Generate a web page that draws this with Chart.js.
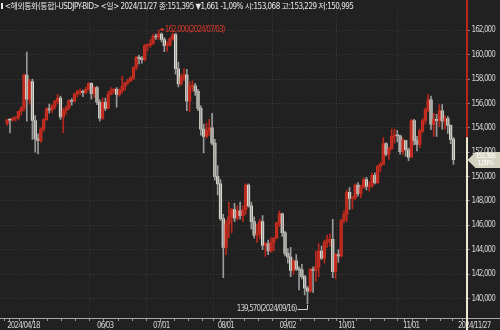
<!DOCTYPE html>
<html>
<head>
<meta charset="utf-8">
<script src="https://cdn.jsdelivr.net/npm/chart.js@4"></script>
<style>
  html, body { margin: 0; padding: 0; background: #212121; }
  canvas { display: block; }
</style>
</head>
<body>
<canvas id="fxChart" width="500" height="330"></canvas>
<script>
// USDJPY daily candles (BID), first and last trading day shown
const startDay = "2024-04-18";
const endDay = "2024-11-27";

const openPrices = [
  154.36,154.64,154.63,154.81,154.83,155.35,155.62,158.32,156.35,157.80,
  154.60,153.10,152.95,153.90,154.68,155.55,155.48,155.78,156.20,156.45,
  154.90,155.40,155.65,156.25,156.18,156.80,156.95,157.00,156.88,157.15,
  157.65,156.80,157.30,156.10,154.80,156.10,155.60,156.75,157.05,157.15,
  156.75,157.05,157.40,157.70,157.85,158.10,158.95,159.80,159.70,159.60,
  160.75,160.80,160.90,161.50,161.45,161.70,161.25,160.75,160.80,161.30,
  161.65,158.85,157.60,158.10,158.35,156.20,157.40,157.45,157.00,155.60,
  153.90,153.30,153.75,154.00,152.75,150.00,149.40,146.55,144.20,146.10,
  146.70,147.30,146.60,147.20,146.80,147.30,149.30,147.60,146.30,145.20,
  145.30,146.30,144.35,144.50,143.90,144.60,144.95,146.20,146.95,145.40,
  143.70,143.40,142.30,143.10,142.40,142.35,141.80,140.85,140.60,142.40,
  142.30,142.60,143.90,143.30,144.60,144.80,144.85,142.20,143.60,143.50,
  146.40,146.90,148.70,148.20,148.25,149.30,148.60,149.10,149.75,149.20,
  149.25,150.10,149.50,150.85,151.00,152.70,151.85,152.30,153.30,153.40,
  153.35,152.05,152.95,152.20,151.60,154.60,152.95,152.65,153.75,154.60,
  155.50,156.30,154.30,154.70,154.60,155.40,154.55,154.75,154.20,153.068
];
const highPrices = [
  154.72,154.66,154.86,154.89,155.37,155.74,158.44,160.21,157.98,158.00,
  155.00,153.50,154.00,154.75,155.65,155.95,155.90,156.25,156.75,156.60,
  155.60,155.80,156.30,156.40,156.85,157.10,157.20,157.10,157.35,157.70,
  157.70,157.40,157.40,156.30,156.45,156.45,157.00,157.30,157.25,157.30,
  157.20,158.25,157.75,158.00,158.20,159.00,159.85,159.95,159.85,160.85,
  160.90,161.25,161.70,161.70,162.00,161.80,161.40,161.10,161.40,161.80,
  161.75,159.40,158.40,158.85,158.80,157.80,157.85,157.65,157.15,155.80,
  154.30,154.40,154.70,155.20,153.05,150.90,149.75,146.90,146.40,147.90,
  147.40,147.80,147.60,147.90,147.60,149.40,149.40,147.90,146.70,146.10,
  146.50,146.80,144.60,144.80,145.00,145.00,146.25,147.20,147.00,145.50,
  144.10,144.20,143.20,143.60,142.60,142.80,141.90,141.00,142.50,142.60,
  143.90,144.50,144.30,144.80,145.20,145.30,146.50,143.70,144.00,146.50,
  147.20,148.90,149.10,148.40,149.40,149.50,149.30,149.90,149.95,149.60,
  150.30,150.30,150.95,151.20,153.20,152.80,152.40,153.90,153.90,153.80,
  153.40,153.15,153.00,152.35,154.70,154.70,153.30,153.90,154.75,155.65,
  156.75,156.60,155.20,155.10,155.90,155.90,155.00,154.95,154.25,153.229
];
const lowPrices = [
  154.20,153.59,154.55,154.56,154.66,155.05,155.38,154.54,155.95,153.05,
  152.00,151.86,152.80,153.70,154.60,155.20,155.25,155.55,156.00,154.70,
  153.60,155.10,155.50,155.85,156.10,156.55,156.70,156.55,156.80,157.10,
  156.35,156.50,155.90,154.55,154.70,155.40,155.55,156.70,156.85,155.70,
  156.60,156.85,157.10,157.55,157.80,157.95,158.75,159.25,159.30,159.50,
  160.30,160.60,160.85,161.25,161.25,161.05,160.25,160.30,160.70,161.20,
  158.40,157.35,157.50,157.90,155.40,155.35,157.00,156.65,155.40,153.40,
  151.95,153.15,153.35,152.60,149.70,148.50,146.40,141.70,143.60,145.00,
  145.40,146.30,146.40,146.50,146.30,146.90,147.50,145.70,144.95,144.60,
  144.90,144.00,143.45,143.60,143.80,143.90,144.90,145.90,145.10,143.50,
  142.90,141.80,142.00,142.30,140.70,141.60,140.30,139.57,140.50,140.50,
  141.40,141.80,143.20,142.90,144.20,144.30,141.70,141.65,142.95,143.40,
  146.20,146.30,147.30,147.35,148.10,148.40,148.25,149.05,148.90,148.80,
  149.10,149.40,149.40,150.40,150.95,151.70,151.40,152.20,152.75,152.85,
  151.85,151.80,151.65,151.30,151.60,152.60,152.10,152.40,153.60,154.30,
  155.30,153.85,153.30,153.30,154.10,153.90,153.90,153.55,152.70,150.995
];
const closePrices = [
  154.64,154.63,154.81,154.83,155.35,155.62,158.32,156.35,157.80,154.60,
  153.10,152.95,153.90,154.68,155.55,155.48,155.78,156.20,156.45,154.90,
  155.40,155.65,156.25,156.18,156.80,156.95,157.00,156.88,157.15,157.65,
  156.80,157.30,156.10,154.80,156.10,155.60,156.75,157.05,157.15,156.75,
  157.05,157.40,157.70,157.85,158.10,158.95,159.80,159.70,159.60,160.75,
  160.80,160.90,161.50,161.45,161.70,161.25,160.75,160.80,161.30,161.65,
  158.85,157.60,158.10,158.35,156.20,157.40,157.45,157.00,155.60,153.90,
  153.30,153.75,154.00,152.75,150.00,149.40,146.55,144.20,146.10,146.70,
  147.30,146.60,147.20,146.80,147.30,149.30,147.60,146.30,145.20,145.30,
  146.30,144.35,144.50,143.90,144.60,144.95,146.20,146.95,145.40,143.70,
  143.40,142.30,143.10,142.40,142.35,141.80,140.85,140.60,142.40,142.30,
  142.60,143.90,143.30,144.60,144.80,144.85,142.20,143.60,143.50,146.40,
  146.90,148.70,148.20,148.25,149.30,148.60,149.10,149.75,149.20,149.25,
  150.10,149.50,150.85,151.00,152.70,151.85,152.30,153.30,153.40,153.35,
  152.05,152.95,152.20,151.60,154.60,152.95,152.65,153.75,154.60,155.50,
  156.30,154.30,154.70,154.60,155.40,154.55,154.75,154.20,153.056,151.395
];

// dates that get a label (and a dotted vertical grid line)
const labelDays = ["2024/04/18", "2024/06/03", "2024/07/01", "2024/08/01", "2024/09/02", "2024/10/01", "2024/11/01", "2024/11/27"];

const FONT = '"DejaVu Sans Condensed", "Noto Sans CJK KR", sans-serif';
const UP = "#dc3326";
const UP_WICK = "#b8281d";
const DOWN = "#f7f4e4";
const DOWN_WICK = "#9a9a9a";
const GRID = "#3d3d3d";
const TEXT = "#cfcfcf";

//Builds the list of trading days (weekdays) and the weekly tick positions
const tradeDays = [];
const mondays = [];
for (let d = new Date(startDay + "T00:00:00Z"); d <= new Date(endDay + "T00:00:00Z"); d.setUTCDate(d.getUTCDate() + 1)) {
  const wd = d.getUTCDay();
  if (wd === 0 || wd === 6) continue;
  if (wd === 1) mondays.push(tradeDays.length);
  tradeDays.push(d.toISOString().slice(0, 10).replace(/-/g, "/"));
}
const last = tradeDays.length - 1;
const labelIdx = labelDays.map((d) => tradeDays.indexOf(d));
// the last date label sits against the right edge, a little past its candle
const tickIdx = Array.from(new Set(mondays.concat(labelIdx.slice(0, -1)))).sort((a, b) => a - b).concat([last + 1.6]);

const isUp = (i) => closePrices[i] >= openPrices[i];
const fmt = (v) => v.toFixed(3).replace(".", ",");

const wicks = tradeDays.map((d, i) => ({ x: i, y: [lowPrices[i], highPrices[i]] }));
const bodies = tradeDays.map((d, i) => ({ x: i, y: [openPrices[i], closePrices[i]] }));

//Tight letter spacing so the small labels look like the terminal font
const tightText = {
  id: "tightText",
  beforeDraw(chart) {
    chart.ctx.letterSpacing = "-0.9px";
  },
};

//Header, max / min notes, price gauge and last price tag
const overlay = {
  id: "overlay",
  afterDraw(chart) {
    const { ctx, chartArea: a, scales: { x, y } } = chart;
    ctx.save();

    // header line
    const chg = closePrices[last - 1] - closePrices[last];
    const pct = (chg / closePrices[last - 1] * 100).toFixed(2).replace(".", ",");
    const head = "<해외통화(통합)-USDJPY-BID> <일> " + tradeDays[last] +
      " 종:" + fmt(closePrices[last]) + " ▼" + fmt(chg) + " -" + pct + "%" +
      " 시:" + fmt(openPrices[last]) + " 고:" + fmt(highPrices[last]) + " 저:" + fmt(lowPrices[last]);
    ctx.fillStyle = "#e6e6e6";
    ctx.fillRect(1, 3, 2, 6);
    ctx.letterSpacing = "-0.5px";
    ctx.font = "8px " + FONT;
    ctx.textBaseline = "middle";
    ctx.textAlign = "left";
    ctx.fillText(head, 5, 6.5);

    // highest high
    let hi = 0, lo = 0;
    highPrices.forEach((v, i) => { if (v > highPrices[hi]) hi = i; });
    lowPrices.forEach((v, i) => { if (v < lowPrices[lo]) lo = i; });
    const hx = x.getPixelForValue(hi), hy = Math.round(y.getPixelForValue(highPrices[hi])) - 0.5;
    ctx.letterSpacing = "-0.9px";
    ctx.strokeStyle = "#d23a2c";
    ctx.fillStyle = "#d23a2c";
    ctx.lineWidth = 1;
    ctx.beginPath();
    ctx.moveTo(hx + 1, hy);
    ctx.lineTo(hx + 6, hy);
    ctx.stroke();
    ctx.beginPath();
    ctx.moveTo(hx + 1, hy);
    ctx.lineTo(hx + 4, hy - 2);
    ctx.lineTo(hx + 4, hy + 2);
    ctx.closePath();
    ctx.fill();
    ctx.fillText(fmt(highPrices[hi]) + "(" + tradeDays[hi] + ")", hx + 6, hy);

    // lowest low
    const lx = Math.round(x.getPixelForValue(lo)) + 0.5, ly = y.getPixelForValue(lowPrices[lo]);
    const by = Math.round(ly + 5) + 0.5;
    ctx.strokeStyle = "#d0d0d0";
    ctx.fillStyle = "#d0d0d0";
    ctx.beginPath();
    ctx.moveTo(lx, ly + 1);
    ctx.lineTo(lx, by);
    ctx.lineTo(lx - 10, by);
    ctx.stroke();
    ctx.textAlign = "right";
    ctx.fillText(fmt(lowPrices[lo]) + "(" + tradeDays[lo] + ")", lx - 11, by - 1);

    // axis line continues under the price scale
    ctx.strokeStyle = "#a8a8a8";
    ctx.beginPath();
    ctx.moveTo(a.right, a.bottom + 0.5);
    ctx.lineTo(chart.width, a.bottom + 0.5);
    ctx.stroke();

    // price gauge on the right edge
    const ex = a.right + 0.5;
    const gy = y.getPixelForValue(highPrices[last]);
    ctx.lineWidth = 2;
    ctx.strokeStyle = "#b8261c";
    ctx.beginPath();
    ctx.moveTo(ex, 0);
    ctx.lineTo(ex, gy);
    ctx.stroke();
    ctx.strokeStyle = "#ece8d4";
    ctx.beginPath();
    ctx.moveTo(ex, gy);
    ctx.lineTo(ex, chart.height);
    ctx.stroke();

    // last price tag
    const py = Math.round(y.getPixelForValue(closePrices[last]));
    ctx.fillStyle = "#d6d2c1";
    ctx.beginPath();
    ctx.moveTo(a.right + 1, py);
    ctx.lineTo(a.right + 9, py - 8);
    ctx.lineTo(chart.width, py - 8);
    ctx.lineTo(chart.width, py + 8);
    ctx.lineTo(a.right + 9, py + 8);
    ctx.closePath();
    ctx.fill();
    ctx.fillStyle = "#ffffff";
    ctx.font = "7px " + FONT;
    ctx.textAlign = "left";
    ctx.fillText(fmt(closePrices[last]), a.right + 9, py - 3.5);
    ctx.fillText(pct + "%", a.right + 11, py + 3.5);
    ctx.restore();
  },
};

const ctx = document.getElementById("fxChart").getContext("2d");
new Chart(ctx, {
  type: "bar",
  data: {
    datasets: [
      {
        data: wicks,
        grouped: false,
        barThickness: 1,
        borderWidth: 0,
        backgroundColor: (c) => (isUp(c.dataIndex) ? UP_WICK : DOWN_WICK),
      },
      {
        data: bodies,
        grouped: false,
        barThickness: 2.5,
        minBarLength: 1,
        borderWidth: 0,
        backgroundColor: (c) => (isUp(c.dataIndex) ? UP : DOWN),
      },
    ],
  },
  options: {
    responsive: false,
    animation: false,
    events: [],
    layout: { padding: 0 },
    plugins: { legend: { display: false }, tooltip: { enabled: false } },
    scales: {
      x: {
        type: "linear",
        min: -0.3,
        max: 161.4,
        afterBuildTicks: (s) => { s.ticks = tickIdx.map((v) => ({ value: v })); },
        afterFit: (s) => { s.height = 12; },
        ticks: {
          autoSkip: false,
          maxRotation: 0,
          align: "start",
          padding: 0,
          color: TEXT,
          font: { family: FONT, size: 8 },
          callback: (v) => {
            const i = Math.min(Math.round(v), last);
            const d = tradeDays[i];
            if (!labelDays.includes(d)) return "";
            return i === 0 || i === last ? d : d.slice(5);
          },
        },
        grid: {
          color: (c) => (c.tick && labelIdx.slice(1, -1).includes(c.tick.value) ? GRID : "rgba(0,0,0,0)"),
          tickColor: "#9a9a9a",
          tickLength: 3,
        },
        border: { color: "#a8a8a8", dash: [1, 2] },
      },
      y: {
        position: "right",
        min: 138.4,
        max: 163.93,
        afterFit: (s) => { s.width = 32; },
        ticks: {
          stepSize: 2,
          includeBounds: false,
          padding: 2,
          color: TEXT,
          font: { family: FONT, size: 8 },
          callback: (v) => fmt(v),
        },
        grid: { color: GRID, tickColor: "#9a9a9a", tickLength: 3 },
        border: { display: false, dash: [1, 2] },
      },
    },
  },
  plugins: [tightText, overlay],
});
</script>
</body>
</html>
